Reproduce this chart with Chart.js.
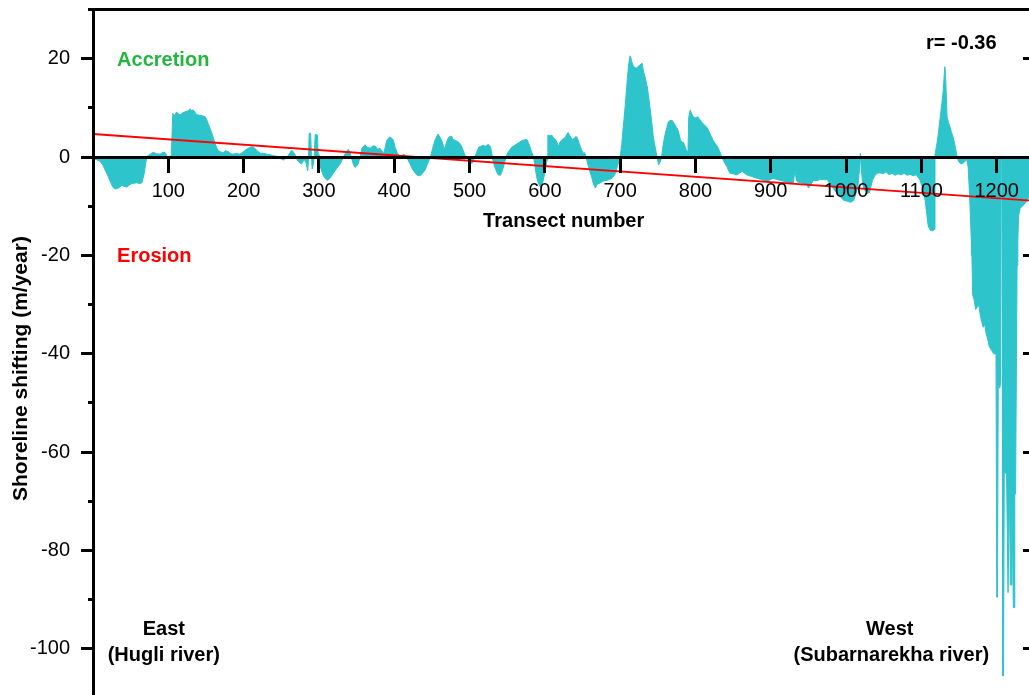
<!DOCTYPE html>
<html>
<head>
<meta charset="utf-8">
<script src="https://cdn.jsdelivr.net/npm/chart.js@4.4.1/dist/chart.umd.min.js"></script>
<style>
  html, body { margin: 0; padding: 0; background: #fff; overflow: hidden; width: 1029px; height: 695px; }
  #wrap { position: absolute; left: -20px; top: -20px; width: 1100px; height: 760px; }
</style>
</head>
<body>
<div id="wrap"><canvas id="chart" width="1100" height="760"></canvas></div>
<script>
// Transect numbers along the coast (east -> west) and the shoreline shift rate (m/year)
const transect = [
  0, 4, 9, 13, 16, 20, 23, 26, 29, 32,
  35, 38, 41, 45, 48, 51, 55, 58, 62, 65,
  68, 70, 72, 76, 80, 84, 89, 93, 96, 98,
  100, 102, 104, 106, 108, 111, 113, 116, 119, 122,
  126, 129, 131, 133, 136, 138, 142, 145, 149, 151,
  153, 156, 158, 160, 162, 164, 166, 170, 173, 176,
  180, 183, 186, 190, 195,
  199, 202, 206, 209, 212, 215, 218, 222, 226, 231,
  235, 239, 243, 246, 250, 253, 256, 259, 262, 264,
  266, 268, 270, 272, 275, 277, 279, 281, 283, 285,
  286, 287, 289, 290, 291, 293, 294, 295, 298, 299,
  300, 302, 305, 308, 310, 312, 315, 319, 323, 328,
  332, 335, 339, 341, 344, 346, 348, 350, 352, 355,
  357, 361, 364, 368, 372, 375, 378, 381, 384, 386,
  388, 390, 394, 397, 399,
  401, 404, 407, 410, 412, 414, 417, 421, 424, 428,
  431, 434, 437, 441, 444, 448, 451, 454, 458, 461,
  463, 465, 467, 469, 472, 476, 478, 481, 485, 488,
  490, 494, 496,
  500, 503, 505, 507, 510, 512, 515, 518, 521, 525,
  528, 531, 533, 536, 538, 541, 543, 545, 547, 549,
  552, 556, 560, 563, 566, 570, 573, 576, 578, 580,
  582, 585, 587, 589, 591, 594, 596, 598,
  600, 603, 604, 607, 609, 612, 614, 616, 618, 620,
  623, 625, 627, 629, 631, 633, 636, 639, 641, 643,
  645, 647, 649, 651, 653, 655, 657, 659, 662, 664,
  666, 667, 669, 671, 673, 676, 679, 683, 686, 689,
  691, 694, 696, 698,
  700, 702, 704, 707, 709, 711, 713, 714, 715, 717,
  719, 722, 724, 726, 728, 729, 731, 733, 736, 738,
  740, 742, 744, 746, 749, 751, 753, 755, 757, 760,
  762, 764, 766, 769, 771, 773, 775, 777, 780, 782,
  784, 786, 788, 790, 791, 793, 795, 797,
  800, 803, 806, 809, 812, 815, 818, 821, 823, 826,
  829, 832, 835, 838, 842, 844, 846, 850, 855, 859,
  862, 865, 868, 872, 876, 879, 882, 886, 890, 895,
  899,
  903, 907, 912, 917, 921, 926, 930, 932, 934, 936,
  940, 944, 948, 950, 953, 957, 961, 966, 970, 975,
  979, 983, 988, 993, 997,
  1002, 1006, 1010, 1013, 1016, 1018, 1019, 1020, 1022, 1025,
  1028, 1031, 1033, 1035, 1038, 1041, 1045, 1049, 1053, 1057,
  1061, 1065, 1069, 1073, 1077, 1081, 1085, 1089, 1093, 1096,
  1098,
  1101, 1103, 1105, 1107, 1109, 1112, 1115, 1117, 1118, 1120,
  1122, 1125, 1127, 1129, 1131, 1132, 1134, 1136, 1138, 1140,
  1142, 1144, 1147, 1149, 1151, 1154, 1157, 1160,
  1162, 1164, 1166, 1167, 1168, 1170, 1172, 1174, 1176, 1178,
  1180, 1182, 1184, 1186, 1188, 1190, 1192, 1194, 1196, 1199,
  1200, 1201, 1202, 1204, 1205, 1206, 1207, 1208, 1209, 1210,
  1213, 1215, 1216, 1217, 1218, 1219, 1220, 1222, 1223, 1224,
  1225, 1226, 1227, 1228, 1229, 1231, 1234, 1237, 1240, 1243, 1246, 1250
];

const shiftRate = [
  -0.3, -0.5, -0.8, -1.6, -2.6, -3.9, -5.0, -6.0, -6.5, -6.4,
  -6.2, -5.7, -5.9, -6.1, -5.7, -5.4, -5.3, -5.2, -5.4, -5.2,
  -3.3, -1.2, 0.2, 0.6, 1.0, 0.7, 0.6, 1.0, 0.9, 0.3,
  -0.8, -0.5, 0.5, 8.9, 8.4, 9.2, 8.8, 8.6, 9.0, 9.2,
  9.4, 9.8, 9.5, 9.6, 9.0, 8.6, 8.5, 8.4, 8.2, 7.6,
  6.8, 5.6, 4.8, 3.8, 2.8, 2.0, 1.4, 1.0, 0.9, 1.3,
  1.1, 0.7, 0.6, 0.8, 0.6,
  1.0, 1.4, 1.8, 2.0, 2.1, 1.8, 1.3, 0.8, 0.8, 0.6,
  0.5, 0.3, 0.2, 0.0, -0.4, -0.6, -0.2, 0.3, 1.0, 1.4,
  1.0, 0.6, -0.2, -0.8, -1.2, -1.4, -0.8, -0.6, -1.2, -2.8,
  -1.0, 4.8, 4.9, 0.5, -2.4, -1.0, 1.0, 4.6, 4.5, 0.6,
  -1.6, -2.0, -3.5, -4.3, -4.6, -4.7, -4.2, -3.3, -2.4, -1.4,
  -0.2, 0.8, 1.6, 1.0, -0.6, -1.6, -2.1, -1.8, -1.4, 0.2,
  1.8, 2.5, 2.0, 1.8, 2.3, 2.2, 1.6, 1.8, 1.2, 0.7,
  2.0, 3.4, 4.1, 3.8, 3.4,
  2.0, 0.9, 0.3, 0.0, 0.6, 0.5, -0.2, -1.4, -2.4, -3.3,
  -3.7, -3.8, -3.4, -2.6, -1.4, 0.0, 1.8, 3.4, 4.7, 4.0,
  3.4, 2.4, 1.6, 2.8, 4.0, 4.3, 3.6, 3.4, 3.1, 2.6,
  2.0, 0.3, 0.0,
  -0.8, -1.3, -0.8, 0.0, 1.2, 2.0, 2.2, 2.4, 2.2, 2.6,
  2.0, -0.6, -1.8, -3.0, -3.6, -3.7, -3.0, -2.0, -0.8, 0.3,
  1.2, 2.0, 2.4, 2.7, 3.0, 3.4, 3.5, 3.6, 3.0, 2.2,
  1.2, 0.0, -2.0, -4.0, -5.2, -6.1, -5.6, -4.7,
  -3.0, -0.6, 4.5, 4.3, 4.5, 3.8, 3.6, 3.0, 2.2, 3.0,
  3.6, 3.8, 4.0, 4.6, 5.0, 4.4, 3.6, 3.8, 4.2, 4.0,
  3.0, 2.2, 1.4, 0.8, 0.9, -0.2, -1.4, -2.6, -4.0, -5.2,
  -6.0, -6.3, -5.6, -5.4, -5.3, -5.0, -4.8, -4.7, -4.5, -4.3,
  -4.0, -3.2, -2.0, -1.0,
  0.0, 2.5, 6.0, 11.0, 15.0, 18.5, 20.6, 20.4, 19.5, 18.7,
  18.2, 18.1, 18.5, 18.7, 19.0, 19.1, 17.4, 16.3, 14.3, 12.0,
  9.6, 7.0, 4.1, 2.4, 0.0, -1.6, -1.0, 0.0, 2.5, 4.9,
  6.0, 7.2, 7.4, 7.5, 7.0, 6.5, 6.0, 5.4, 3.5, 3.0,
  3.0, 2.2, 1.4, 1.0, 8.0, 9.6, 8.8, 8.2,
  8.0, 8.2, 7.6, 7.0, 6.5, 6.1, 5.2, 4.2, 3.5, 2.8,
  2.2, 1.2, 0.0, -1.0, -2.0, -2.8, -3.3, -3.4, -3.6, -3.2,
  -2.9, -3.3, -3.6, -3.8, -4.0, -4.2, -4.3, -4.5, -4.7, -5.0,
  -4.6,
  -4.3, -4.5, -4.7, -4.9, -5.1, -5.4, -5.2, -2.6, -4.8, -5.1,
  -5.2, -5.4, -5.5, -6.3, -5.6, -4.7, -4.8, -4.5, -4.6, -4.6,
  -5.5, -6.4, -7.4, -8.2, -8.8,
  -9.0, -9.2, -8.8, -7.5, -5.5, -2.0, 0.8, -2.0, -5.6, -6.8,
  -7.4, -7.2, -6.0, -4.7, -3.8, -3.3, -3.2, -3.4, -3.0, -3.6,
  -3.3, -3.7, -3.4, -3.6, -3.3, -3.7, -3.5, -3.8, -3.6, -4.2,
  -4.7,
  -6.0, -7.5, -8.8, -11.5, -14.0, -14.9, -15.0, -14.7, 0.5, 2.2,
  4.2, 8.2, 10.8, 13.6, 18.4, 17.0, 8.2, 7.0, 6.1, 5.0,
  4.1, 2.8, 0.4, -0.8, -1.2, -1.4, -1.0, -0.4,
  -2.0, -8.0, -16.0, -20.0, -28.0, -29.0, -31.0, -30.5, -30.0, -32.0,
  -33.5, -34.6, -34.0, -36.0, -37.0, -38.5, -39.0, -39.5, -40.0, -40.0,
  -89.5, -89.5, -46.0, -47.0, -46.0, -0.5, -0.5, -105.5, -105.5, -64.0,
  -64.5, -88.6, -88.6, -66.0, -87.0, -87.0, -67.5, -91.6, -91.6, -68.5,
  -68.5, -45.0, -22.0, -17.0, -12.0, -10.4, -10.0, -9.5, -9.0, -8.0, -7.5, -7.0
];

// Linear trend of the shift rate along the transects (r = -0.36)
const trendTransect = [0, 1250];
const trendRate = [4.7, -8.9];

// Axis ticks
const xTicks = [100, 200, 300, 400, 500, 600, 700, 800, 900, 1000, 1100, 1200];
const yTicks = [-100, -80, -60, -40, -20, 0, 20];
const yMinorTicks = [-110, -100, -90, -80, -70, -60, -50, -40, -30, -20, -10, 0, 10, 20, 30];

const FONT = "'Liberation Sans', Arial, Helvetica, sans-serif";
const CYAN = '#2ec4cc';
const RED = '#ff0000';
const GREEN = '#22b83f';

Chart.defaults.font.family = FONT;
Chart.defaults.color = '#000';

const areaPoints = transect.map((t, i) => ({ x: t, y: shiftRate[i] }));
const trendPoints = trendTransect.map((t, i) => ({ x: t, y: trendRate[i] }));

// Text placed inside the plot, anchored in data units
const notes = [
  { text: 'Accretion', t: 32, v: 18.5, color: GREEN, align: 'left' },
  { text: 'Erosion', t: 32, v: -21.3, color: RED, align: 'left' },
  { text: 'r= -0.36', t: 1106, v: 21.9, color: '#000', align: 'left' },
  { text: 'East', t: 94, v: -97.1, color: '#000', align: 'center' },
  { text: '(Hugli river)', t: 94, v: -102.4, color: '#000', align: 'center' },
  { text: 'West', t: 1058, v: -97.1, color: '#000', align: 'center' },
  { text: '(Subarnarekha river)', t: 1060, v: -102.4, color: '#000', align: 'center' }
];

const textLayer = {
  id: 'textLayer',
  afterDraw(chart) {
    const { ctx, chartArea } = chart;
    const sx = chart.scales.x, sy = chart.scales.y;
    ctx.save();
    ctx.font = 'bold 20px ' + FONT;
    ctx.textBaseline = 'alphabetic';
    notes.forEach(n => {
      ctx.fillStyle = n.color;
      ctx.textAlign = n.align;
      ctx.fillText(n.text, sx.getPixelForValue(n.t), sy.getPixelForValue(n.v));
    });
    // vertical axis title
    ctx.translate(chartArea.left - 72, sy.getPixelForValue(-43));
    ctx.rotate(-Math.PI / 2);
    ctx.font = 'bold 21px ' + FONT;
    ctx.fillStyle = '#000';
    ctx.textAlign = 'center';
    ctx.textBaseline = 'middle';
    ctx.fillText('Shoreline shifting (m/year)', 0, 0);
    ctx.restore();
  }
};

const tickFont = { size: 20, family: FONT };
const setTicks = list => scale => { scale.ticks = list.map(v => ({ value: v })); };

new Chart(document.getElementById('chart'), {
  type: 'line',
  data: {
    datasets: [
      {
        label: 'Trend',
        data: trendPoints,
        borderColor: RED,
        borderWidth: 2,
        pointRadius: 0,
        fill: false,
        order: 0,
        xAxisID: 'x',
        yAxisID: 'y'
      },
      {
        label: 'Shoreline shifting',
        data: areaPoints,
        borderColor: CYAN,
        backgroundColor: CYAN,
        borderWidth: 1,
        pointRadius: 0,
        tension: 0,
        fill: 'origin',
        order: 1,
        xAxisID: 'x',
        yAxisID: 'y'
      }
    ]
  },
  options: {
    responsive: false,
    animation: false,
    devicePixelRatio: 1,
    events: [],
    layout: { padding: { left: 13, top: 29.6, right: 45.6, bottom: 42 } },
    plugins: { legend: { display: false }, tooltip: { enabled: false } },
    scales: {
      x: {
        type: 'linear', axis: 'x', min: 0, max: 1250,
        position: { y: 0 },
        afterBuildTicks: setTicks(xTicks),
        grid: { drawOnChartArea: false, drawTicks: true, tickLength: 14, tickWidth: 3, tickColor: '#000', z: 1 },
        border: { display: true, width: 3, color: '#000', z: 1 },
        ticks: { font: tickFont, color: '#000', padding: 8, maxRotation: 0, autoSkip: false, z: 1, callback: v => String(v) },
        title: { display: true, text: 'Transect number', color: '#000', font: { size: 20, weight: 'bold', family: FONT }, padding: { top: -2, bottom: 0 } }
      },
      xTop: {
        type: 'linear', axis: 'x', min: 0, max: 1250,
        position: { y: 30 },
        grid: { display: false, z: 1 },
        border: { display: true, width: 3, color: '#000', z: 1 },
        ticks: { display: false, z: 1 }
      },
      y: {
        type: 'linear', axis: 'y', min: -110, max: 30,
        position: 'left',
        afterFit: scale => { scale.width = 100; },
        afterBuildTicks: setTicks(yTicks),
        grid: { drawOnChartArea: false, drawTicks: true, tickLength: 12, tickWidth: 3, tickColor: '#000', z: 1 },
        border: { display: true, width: 3, color: '#000', z: 1 },
        ticks: { font: tickFont, color: '#000', padding: 11, z: 1, callback: v => String(v) }
      },
      yMinor: {
        type: 'linear', axis: 'y', min: -110, max: 30,
        position: { x: 0 },
        afterBuildTicks: setTicks(yMinorTicks),
        grid: { drawOnChartArea: false, drawTicks: true, tickLength: 5, tickWidth: 3, tickColor: '#000', z: 1 },
        border: { display: false },
        ticks: { display: false }
      },
      yRight: {
        type: 'linear', axis: 'y', min: -110, max: 30,
        position: { x: 1250 },
        afterBuildTicks: setTicks(yTicks),
        grid: { drawOnChartArea: false, drawTicks: true, tickLength: 10, tickWidth: 3, tickColor: '#000', z: 1 },
        border: { display: true, width: 3, color: '#000', z: 1 },
        ticks: { display: false }
      }
    }
  },
  plugins: [textLayer]
});
</script>
</body>
</html>
